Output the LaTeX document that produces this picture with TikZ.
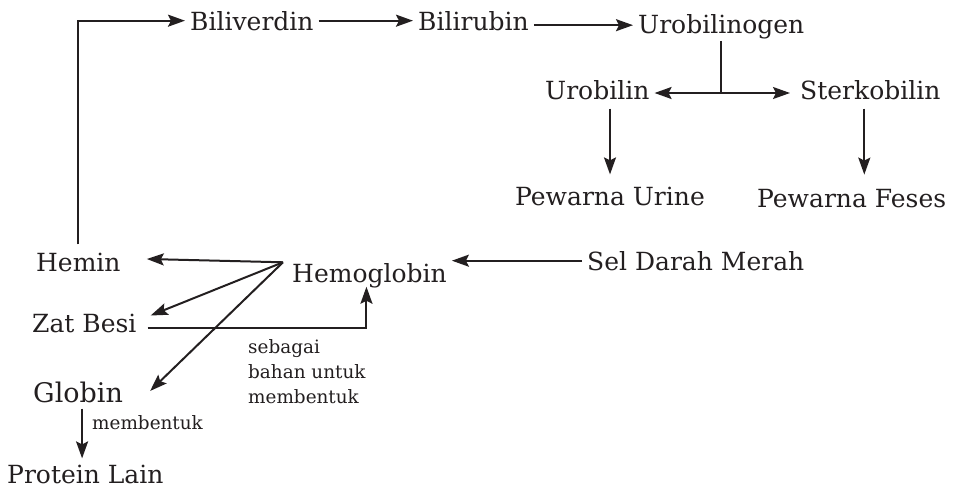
\documentclass[tikz,border=0pt]{standalone}
\usepackage{fontspec}
\setmainfont{DejaVu Serif}
\usetikzlibrary{arrows.meta}
\definecolor{ink}{HTML}{231F20}
\newcommand\mainfs{\fontsize{25}{30}\selectfont}
\newcommand\bigfs{\fontsize{27}{32}\selectfont}
\newcommand\smallfs{\fontsize{18.4}{25}\selectfont}
\begin{document}
\begin{tikzpicture}[x=1pt,y=-1pt,
  txt/.style={font=\mainfs,text=ink,inner xsep=5pt,inner ysep=2pt,anchor=base west},
  lbl/.style={font=\smallfs,text=ink,inner sep=0pt,anchor=base west,align=left},
  conn/.style={draw=ink,line width=2pt},
  arr/.style={conn,-{Stealth[length=17pt,width=12pt,inset=3pt]}}]
\useasboundingbox (0,0) rectangle (954,488);
% nodes
\node[txt] (bv) at (185,30) {Biliverdin};
\node[txt] (br) at (413,30) {Bilirubin};
\node[txt] (ug) at (633,33) {Urobilinogen};
\node[txt] (ub) at (540,99) {Urobilin};
\node[txt] (sk) at (795,99) {Sterkobilin};
\node[txt] (pu) at (510,205) {Pewarna Urine};
\node[txt] (pf) at (752,207) {Pewarna Feses};
\node[txt] (hm) at (31,271) {Hemin};
\node[txt] (hb) at (287,282) {Hemoglobin};
\node[txt] (sdm) at (582,270) {Sel Darah Merah};
\node[txt] (zb) at (27,332) {Zat Besi};
\node[txt,font=\bigfs] (gl) at (28,402) {Globin};
\node[txt] (pl) at (2,483) {Protein Lain};
\node[lbl] (lb1) at (92,429) {membentuk};
\node[lbl,anchor=north west] (lb2) at (248,339) {sebagai\\bahan untuk\\membentuk};
% coordinates
\coordinate (split) at (ug.south |- 0,93);
\coordinate (fan) at ([xshift=-4pt,yshift=13pt]hb.west);
% connectors
\draw[arr] ([yshift=6pt]hm.north) |- (bv.west);
\draw[arr] (bv.east) -- (bv.east -| br.west);
\draw[arr] ([yshift=-4.5pt]br.east) -- ([yshift=-4.5pt]br.east -| ug.west);
\draw[conn] (ug.south) -- (split);
\draw[arr] (split) -- (split -| ub.east);
\draw[arr] (split) -- ([xshift=-5pt]split -| sk.west);
\draw[arr,shorten >=10pt] ([yshift=-7pt]ub.south -| pu.north) -- (pu.north);
\draw[arr,shorten >=12pt] ([xshift=-6pt,yshift=-7pt]sk.south) -- ([xshift=-6pt]sk.south |- pf.north);
\draw[arr] (sdm.west) -- (sdm.west -| hb.east);
\draw[arr] (fan) -- ([xshift=21pt,yshift=3pt]hm.east);
\draw[arr] (fan) -- ([xshift=9pt,yshift=7.5pt]zb.east);
\draw[arr] (fan) -- ([xshift=22pt,yshift=1pt]gl.east);
\draw[arr] ([xshift=6pt,yshift=-5.5pt]zb.east) -| ([xshift=-3pt,yshift=3pt]hb.south);
\draw[arr,shorten >=4pt] ([xshift=4pt,yshift=-4pt]gl.south) -- ([xshift=4pt]gl.south |- pl.north);
\end{tikzpicture}
\end{document}
